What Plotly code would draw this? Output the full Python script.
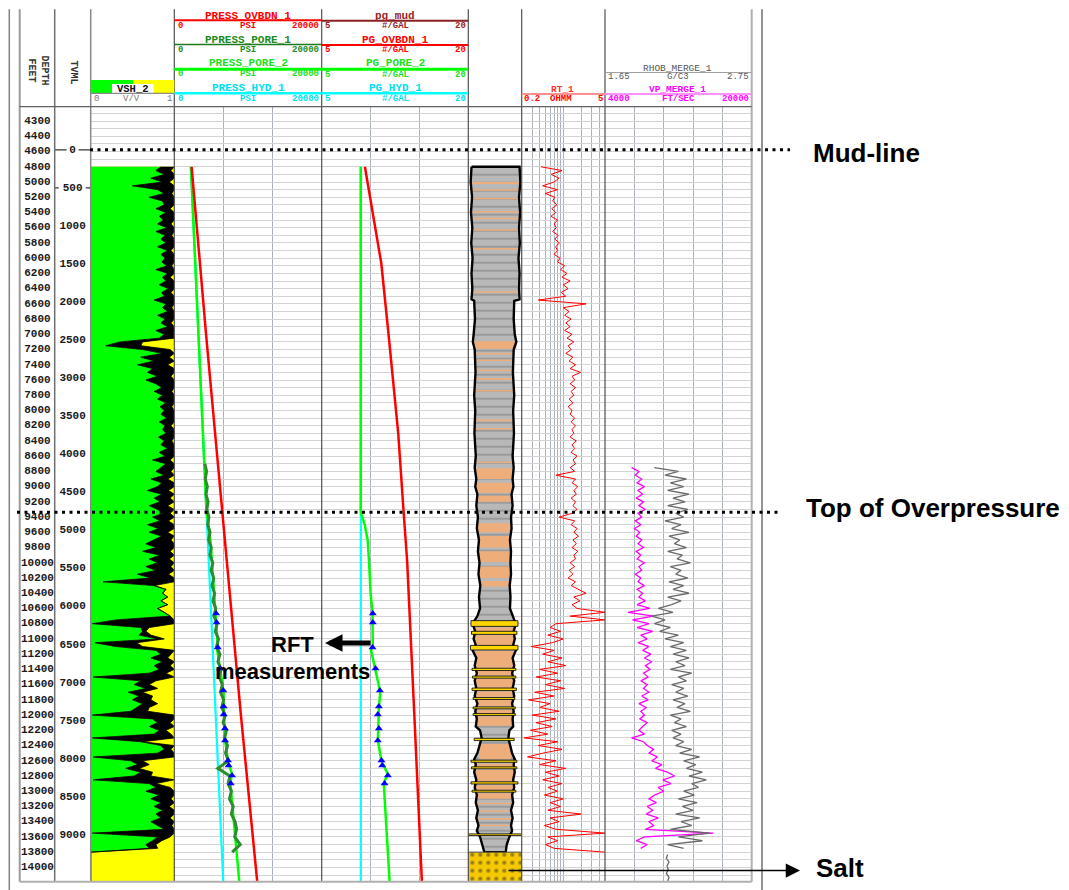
import numpy as np
import plotly.graph_objects as go

W, H = 1069, 890

# ---------------- depth frame (ft) ----------------
DEPTH_TOP = 4011
DEPTH_BOTTOM = 14188
LOG_TOP = 4800
MUDLINE_DEPTH = 4577
OVERPRESSURE_TOP = 9335
SALT_TOP = 13800

DEPTH_TICK_POS = [4200, 4400] + list(range(4600, 14001, 200))
DEPTH_TICK_TEXT = ["4300", "4400"] + [str(d) for d in range(4600, 14001, 200)]
TVML_ZERO_DEPTH = 4577
TVML_TICKS = list(range(0, 9001, 500))

# ---------------- pressure (psi) / gradient (ppg) ----------------
HYD_DEPTH = [4800, 14188]
PRESS_HYD_1 = [2250, 6640]
PG_HYD_1 = [9.0, 9.0]

OVB_DEPTH = [4800, 5240, 5675, 6070, 7000, 8300, 9310, 9970, 12000, 14188]
PG_OVBDN_1 = [9.42, 10.0, 10.55, 11.1, 11.84, 12.83, 13.37, 13.74, 14.48, 15.25]
PRESS_OVBDN_1 = [2351, 2725, 3113, 3504, 4310, 5537, 6473, 7123, 9036, 11252]

PORE2_DEPTH = [4800, 9335, 9500, 9700, 10000, 10400, 10650, 10780, 11100, 11150,
               11400, 11700, 11900, 12330, 12600, 12770, 12900, 14188]
PG_PORE_2 = [9.0, 9.0, 9.4, 9.7, 9.85, 10.0, 10.2, 10.23, 10.23, 10.05,
             10.5, 11.0, 10.85, 10.75, 11.1, 11.75, 11.35, 11.95]
PRESS_PORE_2 = [2250, 4370, 4644, 4893, 5122, 5408, 5649, 5735, 5905, 5827,
                6224, 6692, 6714, 6892, 7273, 7802, 7614, 8816]

PORE1_DEPTH = list(range(8700, 13801, 100))
PPRESS_PORE_1 = [4150, 4380, 4200, 4480, 4300, 4580, 4420, 4700, 4530, 4850,
                 4650, 5020, 4830, 5230, 5000, 5350, 5120, 5470, 5250, 5620,
                 5380, 5800, 5560, 6000, 5740, 6180, 5920, 6350, 6080, 6520,
                 6270, 6700, 6440, 6900, 6620, 7080, 6820, 7220, 6950, 7350,
                 5900, 7550, 7300, 7750, 7480, 8000, 7740, 8250, 8450, 8200,
                 8950, 7850]

RFT_DEPTH = [10666, 10784, 11112, 11388, 11677, 11887, 11992, 12176, 12334, 12597, 12663, 12794, 12899]
RFT_PG = [10.23, 10.23, 10.2, 10.51, 10.95, 10.85, 10.74, 10.85, 10.74, 11.12, 11.19, 11.77, 11.43]
RFT_PRESS = [5674, 5737, 5894, 6224, 6649, 6707, 6697, 6870, 6888, 7284, 7369, 7831, 7667]

# ---------------- VSH_2 (v/v): low / high envelope of the curve ----------------
VSH_DEPTH = list(range(4800, 13801, 50)) + [14185]
VSH_LO = [
    0.84, 0.78, 0.88, 0.72, 0.86, 0.50, 0.80, 0.88, 0.70, 0.86,   # 4800-5250
    0.88, 0.78, 0.90, 0.82, 0.87, 0.80, 0.91, 0.78, 0.89, 0.84,   # 5300-5750
    0.90, 0.80, 0.92, 0.84, 0.89, 0.85, 0.91, 0.78, 0.92, 0.86,   # 5800-6250
    0.90, 0.82, 0.93, 0.85, 0.88, 0.76, 0.90, 0.86, 0.92, 0.80,   # 6300-6750
    0.89, 0.84, 0.92, 0.78, 0.88, 0.82, 0.35, 0.18, 0.62, 0.86,   # 6800-7250
    0.60, 0.76, 0.56, 0.74, 0.68, 0.80, 0.66, 0.78, 0.85, 0.76,   # 7300-7750
    0.86, 0.80, 0.90, 0.83, 0.88, 0.84, 0.91, 0.82, 0.89, 0.86,   # 7800-8250
    0.90, 0.81, 0.88, 0.84, 0.92, 0.82, 0.89, 0.74, 0.90, 0.84,   # 8300-8750
    0.78, 0.88, 0.72, 0.85, 0.80, 0.68, 0.85, 0.76, 0.83, 0.70,   # 8800-9250
    0.80, 0.87, 0.74, 0.83, 0.68, 0.81, 0.70, 0.85, 0.76, 0.66,   # 9300-9750
    0.78, 0.62, 0.83, 0.70, 0.80, 0.66, 0.78, 0.56, 0.72, 0.15,   # 9800-10250
    0.76, 0.90, 0.86, 0.92, 0.84, 0.92, 0.80, 0.88, 0.95, 0.30,   # 10300-10750
    0.02, 0.60, 0.62, 0.58, 0.80, 0.05, 0.30, 0.78, 0.84, 0.72,   # 10800-11250
    0.86, 0.76, 0.82, 0.70, 0.03, 0.60, 0.52, 0.66, 0.45, 0.58,   # 11300-11750
    0.50, 0.62, 0.55, 0.48, 0.02, 0.74, 0.80, 0.70, 0.82, 0.76,   # 11800-12250
    0.02, 0.60, 0.84, 0.88, 0.80, 0.03, 0.48, 0.56, 0.42, 0.60,   # 12300-12750
    0.52, 0.03, 0.70, 0.78, 0.66, 0.82, 0.72, 0.84, 0.76, 0.86,   # 12800-13250
    0.78, 0.84, 0.72, 0.80, 0.88, 0.02, 0.80, 0.74, 0.66, 0.70,   # 13300-13750
    0.0, 0.0]
VSH_HI = [
    1.0, 0.96, 1.0, 1.0, 0.94, 1.0, 1.0, 0.97, 1.0, 1.0,
    1.0, 0.95, 1.0, 1.0, 1.0, 0.96, 1.0, 1.0, 0.97, 1.0,
    1.0, 1.0, 0.96, 1.0, 1.0, 1.0, 0.97, 1.0, 1.0, 0.95,
    1.0, 1.0, 1.0, 0.96, 1.0, 1.0, 1.0, 0.97, 1.0, 1.0,
    1.0, 0.96, 1.0, 1.0, 1.0, 1.0, 0.62, 0.60, 0.95, 1.0,
    0.94, 1.0, 0.92, 1.0, 1.0, 0.96, 1.0, 1.0, 1.0, 0.97,
    1.0, 1.0, 1.0, 0.97, 1.0, 1.0, 1.0, 1.0, 0.96, 1.0,
    1.0, 1.0, 0.97, 1.0, 1.0, 1.0, 1.0, 0.95, 1.0, 1.0,
    0.96, 1.0, 0.92, 1.0, 1.0, 0.93, 1.0, 0.95, 1.0, 0.92,
    1.0, 0.95, 1.0, 0.93, 1.0, 1.0, 0.92, 1.0, 0.96, 1.0,
    1.0, 0.95, 1.0, 0.94, 1.0, 0.96, 1.0, 0.93, 1.0, 1.0,
    0.76, 0.90, 0.86, 0.92, 0.84, 0.92, 0.80, 0.88, 0.95, 1.0,
    1.0, 0.70, 0.66, 0.72, 0.88, 0.55, 0.62, 1.0, 0.96, 0.92,
    1.0, 0.95, 1.0, 0.90, 1.0, 0.78, 0.70, 0.80, 0.62, 0.74,
    0.72, 0.80, 0.70, 0.68, 1.0, 1.0, 0.95, 1.0, 0.90, 0.96,
    1.0, 0.62, 1.0, 0.96, 1.0, 1.0, 0.62, 0.70, 0.58, 0.74,
    0.72, 1.0, 0.78, 0.95, 1.0, 1.0, 0.96, 1.0, 0.94, 1.0,
    1.0, 0.95, 1.0, 0.97, 1.0, 1.0, 0.95, 0.85, 0.78, 0.80,
    0.0, 0.0]

# ---------------- RT_1 (ohmm) ----------------
RT_DEPTH = list(range(4800, 13801, 50))
RT_1 = [
    0.42, 0.95, 0.62, 0.85, 0.70, 0.45, 0.80, 0.50, 0.72, 0.66,
    0.78, 0.64, 0.74, 0.62, 0.80, 0.70, 0.76, 0.66, 0.82, 0.72,
    0.86, 0.74, 0.80, 0.70, 0.88, 0.80, 1.05, 0.90, 1.15, 0.95,
    1.30, 1.00, 1.20, 0.92, 1.10, 0.38, 2.40, 1.00, 1.25, 1.05,
    1.35, 1.10, 1.30, 1.05, 1.40, 1.15, 1.50, 1.20, 1.35, 1.10,
    1.45, 1.25, 1.60, 1.30, 1.95, 1.40, 1.55, 1.30, 1.60, 1.35,
    1.50, 1.25, 1.45, 1.20, 1.40, 1.30, 1.55, 1.35, 1.60, 1.40,
    1.50, 1.30, 1.65, 1.40, 1.55, 1.35, 1.70, 1.45, 1.60, 1.30,
    1.55, 0.75, 1.60, 1.40, 1.75, 1.50, 1.65, 1.35, 1.60, 1.45,
    1.70, 1.40, 0.85, 1.55, 1.35, 1.70, 1.50, 1.80, 1.45, 1.65,
    1.40, 1.75, 1.50, 1.60, 1.30, 1.55, 1.25, 1.45, 1.20, 1.60,
    1.35, 1.75, 2.40, 1.50, 1.90, 1.40, 1.70, 5.00, 1.30, 5.00,
    0.75, 0.60, 0.90, 0.55, 1.00, 0.65, 0.29, 0.70, 0.45, 0.95,
    0.55, 1.10, 0.40, 0.80, 0.35, 0.90, 0.50, 1.05, 0.33, 0.70,
    0.26, 0.60, 0.40, 0.85, 0.30, 0.75, 0.35, 0.65, 0.28, 0.55,
    0.22, 0.80, 0.38, 0.95, 0.45, 0.25, 0.75, 0.40, 1.10, 0.50,
    0.85, 0.45, 0.95, 0.55, 0.80, 0.48, 1.00, 0.60, 0.90, 0.55,
    2.00, 0.60, 0.85, 0.48, 0.75, 5.00, 0.55, 0.80, 0.50, 0.70,
    5.00]

# ---------------- VP_MERGE_1 (ft/s) and RHOB_MERGE_1 (g/cc) ----------------
VP_DEPTH = list(range(8750, 13751, 50))
VP_MERGE_1 = [
    6900, 7700, 7300, 8000, 7500, 8300, 7600, 8100, 7400, 8200,
    7700, 8400, 7600, 8000, 7300, 7900, 7200, 7800, 7400, 8000,
    7600, 8200, 7400, 7900, 7500, 8300, 7700, 8000, 7300, 7900,
    7600, 8300, 7500, 8100, 7700, 8400, 7500, 8900, 6500, 9300,
    7000, 8800, 7500, 9200, 7900, 8600, 7600, 8800, 8100, 9000,
    8300, 9100, 8400, 8900, 8200, 8700, 7900, 8600, 8200, 8800,
    8000, 8700, 7700, 8500, 7900, 8300, 7800, 8600, 8100, 7700,
    8300, 6900, 8200, 8600, 9300, 8800, 9700, 9100, 10200, 9500,
    10800, 11600, 10300, 11200, 9800, 10400, 9400, 8800, 9600, 8600,
    9200, 8500, 9800, 8800, 9300, 8400, 15800, 8300, 7400, 8600,
    7900]
RHOB_MERGE_1 = [
    2.02, 2.20, 2.10, 2.26, 2.14, 2.24, 2.12, 2.28, 2.16, 2.25,
    2.12, 2.27, 2.18, 2.24, 2.10, 2.22, 2.15, 2.28, 2.13, 2.21,
    2.17, 2.26, 2.12, 2.23, 2.19, 2.29, 2.14, 2.22, 2.18, 2.27,
    2.13, 2.24, 2.16, 2.28, 2.12, 2.22, 2.15, 2.05, 2.16, 2.00,
    2.10, 2.02, 2.14, 2.06, 2.20, 2.10, 2.24, 2.14, 2.26, 2.16,
    2.28, 2.18, 2.25, 2.14, 2.30, 2.20, 2.26, 2.15, 2.24, 2.18,
    2.27, 2.16, 2.25, 2.19, 2.29, 2.14, 2.22, 2.17, 2.26, 2.15,
    2.22, 2.16, 2.24, 2.18, 2.30, 2.21, 2.36, 2.24, 2.33, 2.26,
    2.38, 2.28, 2.41, 2.30, 2.35, 2.24, 2.32, 2.20, 2.34, 2.23,
    2.31, 2.18, 2.36, 2.22, 2.30, 2.14, 2.43, 2.20, 2.38, 2.12,
    2.24]
SALT_RHOB_DEPTH = [13830, 13880, 13930, 13980, 14030, 14080, 14130, 14180]
SALT_RHOB = [2.12, 2.11, 2.13, 2.115, 2.125, 2.11, 2.13, 2.12]

# ---------------- lithology column (fraction of track width) ----------------
LITHO_DEPTH = [4800, 5000, 5200, 5400, 5600, 5800, 6000, 6200, 6400, 6540,
               6560, 6800, 7000, 7100, 7200, 7500, 7800, 8000, 8300, 8600,
               8750, 8900, 9000, 9100, 9250, 9400, 9550, 9700, 9850, 10000,
               10150, 10300, 10450, 10600, 10700, 10750, 10800, 10900, 11000, 11080,
               11150, 11250, 11350, 11450, 11550, 11650, 11750, 11850, 11950, 12050,
               12150, 12200, 12300, 12400, 12500, 12580, 12650, 12750, 12850, 12950,
               13050, 13150, 13250, 13350, 13450, 13520, 13600, 13700, 13800]
LITHO_LEFT = [.06, .045, .07, .05, .075, .055, .08, .06, .075, .06,
              .11, .125, .10, .085, .12, .135, .11, .13, .115, .14,
              .12, .15, .13, .17, .15, .18, .16, .20, .18, .21,
              .19, .225, .20, .22, .17, .13, .08, .13, .10, .14,
              .08, .15, .12, .16, .12, .15, .12, .17, .13, .16,
              .14, .22, .25, .21, .17, .11, .14, .11, .15, .12,
              .16, .14, .18, .15, .19, .16, .22, .26, .30]
LITHO_RIGHT = [.96, .975, .95, .97, .95, .965, .94, .96, .95, .96,
               .86, .85, .87, .90, .85, .835, .86, .84, .855, .83,
               .85, .83, .845, .81, .83, .80, .81, .78, .80, .79,
               .80, .775, .79, .78, .83, .86, .89, .85, .87, .84,
               .89, .83, .86, .82, .86, .83, .86, .82, .85, .83,
               .84, .77, .75, .79, .82, .87, .85, .87, .84, .86,
               .82, .84, .80, .83, .80, .82, .77, .72, .70]
SILT_BANDS = [  # top, base, left, right
    (5000, 5025, .07, .95), (5095, 5115, .07, .95), (5205, 5225, .07, .95), (5380, 5400, .06, .96),
    (5470, 5490, .06, .96), (5620, 5640, .07, .95), (5865, 5885, .07, .95), (6435, 6455, .07, .95),
    (7090, 7190, .09, .90), (7245, 7265, .12, .85), (7330, 7350, .12, .85), (7465, 7485, .13, .84),
    (7575, 7595, .12, .85), (7730, 7750, .12, .85), (8120, 8140, .13, .84), (8230, 8250, .12, .85),
    (8670, 8690, .14, .83), (8760, 8900, .14, .83), (8950, 9080, .14, .83), (9120, 9200, .16, .82),
    (9480, 9600, .18, .80), (9650, 9800, .19, .79), (9850, 9990, .20, .80), (10050, 10200, .21, .79),
    (10240, 10310, .22, .78), (10850, 10900, .11, .87), (10950, 11080, .11, .87), (11160, 11380, .14, .85),
    (11420, 11480, .15, .84), (11520, 11640, .14, .84), (11690, 11760, .15, .83), (11800, 11880, .16, .82),
    (11930, 11980, .16, .82), (12020, 12140, .15, .84), (12380, 12580, .20, .80), (12640, 12680, .13, .85),
    (12720, 12870, .13, .85), (12920, 12980, .14, .84), (13030, 13100, .15, .83), (13150, 13170, .17, .81),
    (13250, 13270, .18, .80), (13350, 13370, .18, .80), (13440, 13460, .17, .81)]
SAND_BANDS = [
    (10760, 10835, .05, .93), (10900, 10940, .06, .91), (11085, 11145, .04, .93), (11385, 11415, .07, .89),
    (11488, 11515, .08, .89), (11645, 11678, .07, .90), (11770, 11795, .09, .87), (11893, 11918, .09, .88),
    (11980, 12005, .09, .88), (12305, 12335, .11, .86), (12592, 12620, .05, .91), (12680, 12705, .06, .91),
    (12876, 12905, .05, .93), (12987, 13012, .07, .89), (13560, 13582, .00, 1.0)]

RT_GRID = [0.3, 0.4, 0.5, 0.6, 0.7, 0.8, 0.9, 1, 2, 3, 4]

# ---------------- layout geometry (pixels) ----------------
TR = dict(label=(19.7, 90.7), vsh=(90.7, 174.3), press=(174.3, 321.7), pg=(321.7, 468.3),
          litho=(468.3, 521.7), rt=(521.7, 605.0), vp=(605.0, 751.7))
Y_TOP_PX, Y_BOT_PX = 106.7, 881.7
YD = [1 - Y_BOT_PX / H, 1 - Y_TOP_PX / H]
VGRID = "#aab2c0"


def px(x):
    return x / W


def py(y):
    return 1 - y / H


fig = go.Figure()


def add(tr):
    tr.update(showlegend=False, hoverinfo="skip")
    fig.add_trace(tr)


# ---- VSH track ----
add(go.Scatter(x=[0, 1, 1, 0, 0], y=[LOG_TOP, LOG_TOP, DEPTH_BOTTOM, DEPTH_BOTTOM, LOG_TOP],
               xaxis="x", yaxis="y", mode="lines", line=dict(width=0), fill="toself", fillcolor="#ffff00"))
add(go.Scatter(x=[0] * len(VSH_DEPTH), y=VSH_DEPTH, xaxis="x", yaxis="y", mode="lines", line=dict(width=0)))
add(go.Scatter(x=VSH_LO, y=VSH_DEPTH, xaxis="x", yaxis="y", mode="lines",
               line=dict(color="#000000", width=0.8), fill="tonextx", fillcolor="#00ff00"))
add(go.Scatter(x=VSH_HI, y=VSH_DEPTH, xaxis="x", yaxis="y", mode="lines",
               line=dict(color="#000000", width=0.8), fill="tonextx", fillcolor="#000000"))

# ---- pressure track ----
add(go.Scatter(x=PRESS_HYD_1, y=HYD_DEPTH, xaxis="x2", yaxis="y", mode="lines", line=dict(color="#00ffff", width=2.2)))
add(go.Scatter(x=PRESS_PORE_2, y=PORE2_DEPTH, xaxis="x2", yaxis="y", mode="lines", line=dict(color="#00ff00", width=2.5)))
add(go.Scatter(x=PPRESS_PORE_1, y=PORE1_DEPTH, xaxis="x2", yaxis="y", mode="lines", line=dict(color="#2e8b2e", width=3)))
add(go.Scatter(x=PRESS_OVBDN_1, y=OVB_DEPTH, xaxis="x2", yaxis="y", mode="lines", line=dict(color="#ff0000", width=2.5)))
add(go.Scatter(x=RFT_PRESS, y=RFT_DEPTH, xaxis="x2", yaxis="y", mode="markers",
               marker=dict(symbol="triangle-up", size=7, color="#0000ff")))

# ---- gradient track ----
add(go.Scatter(x=PG_HYD_1, y=HYD_DEPTH, xaxis="x3", yaxis="y", mode="lines", line=dict(color="#00ffff", width=2.2)))
add(go.Scatter(x=PG_PORE_2, y=PORE2_DEPTH, xaxis="x3", yaxis="y", mode="lines", line=dict(color="#00ff00", width=2.5)))
add(go.Scatter(x=PG_OVBDN_1, y=OVB_DEPTH, xaxis="x3", yaxis="y", mode="lines", line=dict(color="#ff0000", width=2.5)))
add(go.Scatter(x=RFT_PG, y=RFT_DEPTH, xaxis="x3", yaxis="y", mode="markers",
               marker=dict(symbol="triangle-up", size=7, color="#0000ff")))

# ---- lithology track ----
col_x = LITHO_LEFT + LITHO_RIGHT[::-1] + [LITHO_LEFT[0]]
col_y = LITHO_DEPTH + LITHO_DEPTH[::-1] + [LITHO_DEPTH[0]]
add(go.Scatter(x=col_x, y=col_y, xaxis="x4", yaxis="y", mode="lines", line=dict(width=0),
               fill="toself", fillcolor="#b8b8b8",
               fillpattern=dict(shape="-", fgcolor="#6e6e6e", bgcolor="#b8b8b8", size=8, solidity=0.2)))


def band_polys(bands):
    xs, ys = [], []
    for top, base, l, r in bands:
        xs += [l, r, r, l, l, None]
        ys += [top, top, base, base, top, None]
    return xs, ys


bx, by = band_polys(SILT_BANDS)
add(go.Scatter(x=bx, y=by, xaxis="x4", yaxis="y", mode="lines", line=dict(width=0),
               fill="toself", fillcolor="#eeae7c"))
add(go.Scatter(x=col_x, y=col_y, xaxis="x4", yaxis="y", mode="lines", line=dict(color="#000000", width=2.4)))
sx, sy = band_polys(SAND_BANDS)
add(go.Scatter(x=sx, y=sy, xaxis="x4", yaxis="y", mode="lines", line=dict(color="#000000", width=0.8),
               fill="toself", fillcolor="#ffd700"))
add(go.Scatter(x=[0, 1, 1, 0, 0], y=[SALT_TOP, SALT_TOP, DEPTH_BOTTOM, DEPTH_BOTTOM, SALT_TOP],
               xaxis="x4", yaxis="y", mode="lines", line=dict(color="#444444", width=1),
               fill="toself", fillcolor="#f5c800",
               fillpattern=dict(shape=".", fgcolor="#333333", bgcolor="#f5c800", size=8, solidity=0.2)))

# ---- resistivity ----
add(go.Scatter(x=RT_1, y=RT_DEPTH, xaxis="x5", yaxis="y", mode="lines", line=dict(color="#ff0000", width=1)))

# ---- sonic / density ----
add(go.Scatter(x=RHOB_MERGE_1, y=VP_DEPTH, xaxis="x7", yaxis="y", mode="lines", line=dict(color="#6a6a6a", width=1.3)))
add(go.Scatter(x=SALT_RHOB, y=SALT_RHOB_DEPTH, xaxis="x7", yaxis="y", mode="lines", line=dict(color="#6a6a6a", width=1.3)))
add(go.Scatter(x=VP_MERGE_1, y=VP_DEPTH, xaxis="x6", yaxis="y", mode="lines", line=dict(color="#ff00ff", width=1.3)))

# ---- depth and TVML labels ----
add(go.Scatter(x=[0.25] * len(DEPTH_TICK_POS), y=DEPTH_TICK_POS, xaxis="x8", yaxis="y2", mode="text",
               text=DEPTH_TICK_TEXT, textposition="middle center",
               textfont=dict(family="Liberation Mono", size=11, color="#1a1a1a", weight="bold")))
tv_y = [TVML_ZERO_DEPTH + v for v in TVML_TICKS]
add(go.Scatter(x=[0.745] * len(TVML_TICKS), y=tv_y, xaxis="x8", yaxis="y2", mode="text",
               text=[str(v) for v in TVML_TICKS], textposition="middle center",
               textfont=dict(family="Liberation Mono", size=11, color="#1a1a1a", weight="bold")))
tick_x = [0.497, 0.66, None, 0.83, 1.0, None, 0.497, 0.55, None, 0.93, 1.0]
tick_y = [tv_y[0], tv_y[0], None, tv_y[0], tv_y[0], None, tv_y[1], tv_y[1], None, tv_y[1], tv_y[1]]
add(go.Scatter(x=tick_x, y=tick_y, xaxis="x8", yaxis="y2", mode="lines", line=dict(color="#333333", width=1.2)))


# ---------------- axes ----------------
def xax(dom, rng, **kw):
    d = dict(domain=[px(dom[0]), px(dom[1])], range=rng, showticklabels=False, ticks="",
             showline=False, zeroline=False, showgrid=False, fixedrange=True, anchor="y")
    d.update(kw)
    return d


yax_common = dict(domain=YD, range=[DEPTH_BOTTOM, DEPTH_TOP], showticklabels=False, ticks="",
                  zeroline=False, showline=False, fixedrange=True)

shapes = []


def vline(x, y0, y1, color, width):
    shapes.append(dict(type="line", xref="paper", yref="paper", x0=px(x), x1=px(x), y0=py(y0), y1=py(y1),
                       line=dict(color=color, width=width)))


def hline(y, x0, x1, color, width):
    shapes.append(dict(type="line", xref="paper", yref="paper", x0=px(x0), x1=px(x1), y0=py(y), y1=py(y),
                       line=dict(color=color, width=width)))


def rect(x0, x1, y0, y1, fill, lc=None):
    shapes.append(dict(type="rect", xref="paper", yref="paper", x0=px(x0), x1=px(x1), y0=py(y1), y1=py(y0),
                       fillcolor=fill, line=dict(width=0 if lc is None else 1, color=lc or fill)))


# frame
vline(9.3, 9.3, 890, "#808080", 1.5)
vline(762.0, 9.3, 890, "#707070", 1.5)
for xb, c, w in [(19.7, "#9a9a9a", 2), (54.7, "#707070", 1.5), (90.7, "#8a8a8a", 1.5), (174.3, "#505050", 1.2),
                 (321.7, "#505050", 1.2), (468.3, "#505050", 1.2), (521.7, "#505050", 1.2),
                 (605.0, "#505050", 1.2), (751.7, "#b0b0b0", 2)]:
    vline(xb, 9.3, Y_BOT_PX, c, w)
hline(Y_TOP_PX, 19.7, 751.7, "#606060", 1.2)
hline(Y_BOT_PX, 19.7, 751.7, "#b0b0b0", 2)

annotations = []


def txt(x, y, s, color, size=11, bold=True, anchor="center", family="Liberation Mono", angle=0):
    annotations.append(dict(x=px(x), y=py(y), xref="paper", yref="paper", text=s, showarrow=False,
                            font=dict(family=family, size=size, color=color, weight="bold" if bold else "normal"),
                            xanchor=anchor, yanchor="middle", textangle=angle, borderpad=0))


# ---- headers ----
PRESS_HEADERS = [("PRESS_OVBDN_1", "#ff0000", "#ff0000", 2.0, 15.7, 20.3, 26.0),
                 ("PPRESS_PORE_1", "#1e8c1e", "#1e7a1e", 1.5, 40.3, 44.5, 50.0),
                 ("PRESS_PORE_2", "#22dd22", "#00ff00", 3.0, 63.5, 69.3, 74.3),
                 ("PRESS_HYD_1", "#00e0f0", "#00ffff", 2.5, 87.8, 93.3, 98.5)]
PG_HEADERS = [("pg_mud", "#9a2424", "#8c2020", 2.0, 15.7, 20.7, 26.0),
              ("PG_OVBDN_1", "#ff0000", "#ff0000", 2.0, 40.0, 45.0, 50.5),
              ("PG_PORE_2", "#22dd22", "#00ff00", 3.0, 63.5, 69.3, 74.5),
              ("PG_HYD_1", "#00e0f0", "#00ffff", 2.5, 87.8, 93.3, 98.7)]
for name, tc, lc, lw, yt, yl, ys in PRESS_HEADERS:
    txt(248, yt, name, tc, 11)
    hline(yl, 174.3, 321.7, lc, lw)
    txt(176.5, ys, "0", tc, 9, anchor="left")
    txt(248, ys, "PSI", tc, 9)
    txt(319.5, ys, "20000", tc, 9, anchor="right")
for name, tc, lc, lw, yt, yl, ys in PG_HEADERS:
    txt(395, yt, name, tc, 11)
    hline(yl, 321.7, 468.3, lc, lw)
    txt(323.5, ys, "5", tc, 9, anchor="left")
    txt(395, ys, "#/GAL", tc, 9)
    txt(466.5, ys, "20", tc, 9, anchor="right")

rect(90.7, 133.3, 80.0, 93.3, "#00ff00")
rect(133.3, 174.3, 80.0, 93.3, "#ffff00")
rect(112.0, 153.5, 84.0, 93.3, "#ffffff")
hline(93.3, 90.7, 174.3, "#8a8a8a", 1.2)
txt(133, 88.8, "VSH_2", "#111111", 10.5)
txt(93, 98.5, "0", "#777777", 9, anchor="left", bold=False)
txt(131, 98.5, "V/V", "#777777", 9, bold=False)
txt(173, 98.5, "1", "#777777", 9, anchor="right", bold=False)

txt(562.3, 89.3, "RT_1", "#ff3030", 9.5)
hline(94.0, 521.7, 605.0, "#ff9090", 2)
txt(523.2, 99.3, "0.2", "#ff0000", 9, anchor="left")
txt(561, 99.3, "OHMM", "#ff0000", 9)
txt(603.5, 99.3, "5", "#ff0000", 9, anchor="right")

txt(677, 68.3, "RHOB_MERGE_1", "#555555", 9.5, bold=False)
hline(72.5, 605.0, 751.7, "#a0a0a0", 1)
txt(607, 77.2, "1.65", "#555555", 9, anchor="left", bold=False)
txt(678, 77.2, "G/C3", "#555555", 9, bold=False)
txt(750, 77.2, "2.75", "#555555", 9, anchor="right", bold=False)
txt(677, 89.3, "VP_MERGE_1", "#ff00ff", 9.5)
hline(94.0, 605.0, 751.7, "#ff90ff", 2)
txt(607, 99.3, "4000", "#ff00ff", 9, anchor="left")
txt(678, 99.3, "FT/SEC", "#ff00ff", 9)
txt(750, 99.3, "20000", "#ff00ff", 9, anchor="right")

txt(37.5, 70, "DEPTH<br>FEET", "#333333", 10, angle=90)
txt(72.5, 72, "TVML", "#333333", 10, angle=90)

# ---- horizon markers ----
shapes.append(dict(type="line", xref="paper", yref="y", x0=px(90), x1=px(790), y0=MUDLINE_DEPTH, y1=MUDLINE_DEPTH,
                   line=dict(color="#000000", width=3, dash="3px,4.5px")))
shapes.append(dict(type="line", xref="paper", yref="y", x0=px(17), x1=px(778), y0=OVERPRESSURE_TOP,
                   y1=OVERPRESSURE_TOP, line=dict(color="#000000", width=3, dash="3px,4.5px")))

BIG = dict(family="Liberation Sans", size=26, color="#000000", weight="bold")
annotations.append(dict(x=px(811), y=py(153), xref="paper", yref="paper", text="Mud-line", showarrow=False,
                        font=BIG, xanchor="left", yanchor="middle"))
annotations.append(dict(x=px(804), y=py(508), xref="paper", yref="paper", text="Top of Overpressure",
                        showarrow=False, font=BIG, xanchor="left", yanchor="middle"))
annotations.append(dict(x=px(814), y=py(868), xref="paper", yref="paper", text="Salt", showarrow=False,
                        font=BIG, xanchor="left", yanchor="middle"))
MID = dict(family="Liberation Sans", size=22, color="#000000", weight="bold")
annotations.append(dict(x=px(292.5), y=py(644), xref="paper", yref="paper", text="RFT", showarrow=False,
                        font=MID, xanchor="center", yanchor="middle"))
annotations.append(dict(x=px(292.5), y=py(671), xref="paper", yref="paper", text="measurements",
                        showarrow=False, font=MID, xanchor="center", yanchor="middle"))
annotations.append(dict(x=px(325), y=py(643), xref="paper", yref="paper", text="", showarrow=True,
                        ax=47, ay=0, arrowhead=2, arrowsize=0.7, arrowwidth=5, arrowcolor="#000000", standoff=0))
annotations.append(dict(x=px(800), y=py(870.5), xref="paper", yref="paper", text="", showarrow=True,
                        ax=-293, ay=0, arrowhead=2, arrowsize=1.9, arrowwidth=1.5, arrowcolor="#000000",
                        standoff=0))

fig.update_layout(
    width=W, height=H, autosize=False, margin=dict(l=0, r=0, t=0, b=0),
    paper_bgcolor="#ffffff", plot_bgcolor="#ffffff", showlegend=False,
    xaxis=xax(TR["vsh"], [0, 1]),
    xaxis2=xax(TR["press"], [0, 20000], showgrid=True, tick0=0, dtick=20000 / 3, gridcolor=VGRID),
    xaxis3=xax(TR["pg"], [5, 20], showgrid=True, tick0=5, dtick=5, gridcolor=VGRID),
    xaxis4=xax(TR["litho"], [0, 1]),
    xaxis5=xax(TR["rt"], [np.log10(0.2), np.log10(5)], type="log", showgrid=True, tickmode="array",
               tickvals=RT_GRID, gridcolor=VGRID),
    xaxis6=xax(TR["vp"], [4000, 20000], showgrid=True, tick0=4000, dtick=3200, gridcolor=VGRID),
    xaxis7=xax(TR["vp"], [1.65, 2.75], overlaying="x6"),
    xaxis8=xax(TR["label"], [0, 1], anchor="y2"),
    yaxis=dict(**yax_common, showgrid=True, tick0=0, dtick=100, gridcolor="#d3d3d3", gridwidth=1, anchor="x"),
    yaxis2=dict(**yax_common, showgrid=False, anchor="x8"),
    shapes=shapes, annotations=annotations,
)

fig.write_html("out.html", config={"displayModeBar": False})
